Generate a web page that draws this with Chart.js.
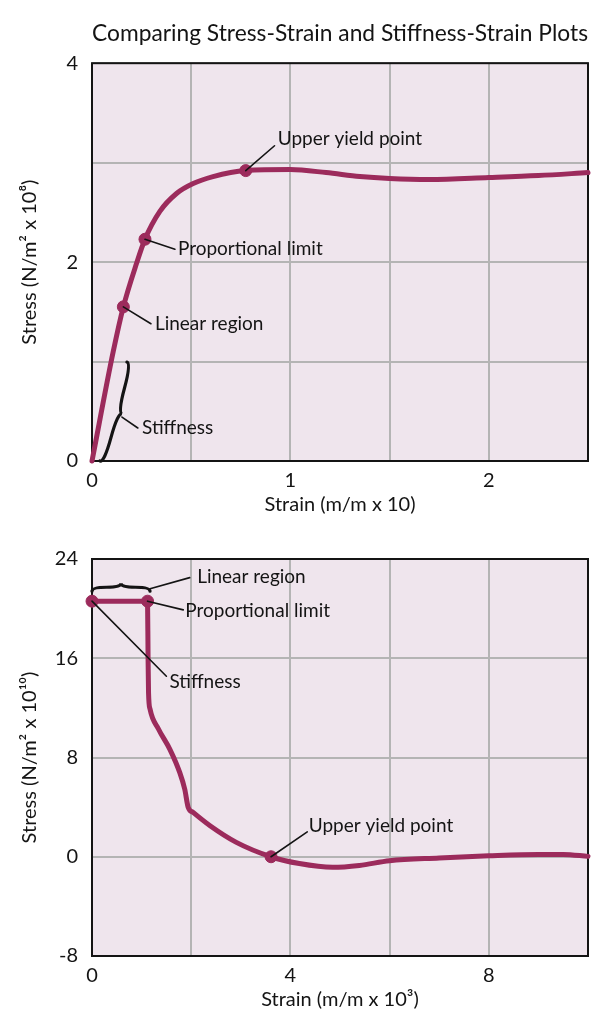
<!DOCTYPE html>
<html>
<head>
<meta charset="utf-8">
<title>Comparing Stress-Strain and Stiffness-Strain Plots</title>
<script src="https://cdn.jsdelivr.net/npm/chart.js@4.4.1/dist/chart.umd.min.js"></script>
<style>
    body { margin: 0; background: #fff; }
    #wrap { position: relative; width: 596px; height: 1026px; }
    canvas { position: absolute; left: 0; }
</style>
</head>
<body>
<div id="wrap">
    <canvas id="stressChart" width="596" height="520" style="top:0"></canvas>
    <canvas id="stiffChart" width="596" height="506" style="top:520px"></canvas>
</div>
<script>
// stress-strain curve (strain m/m x 10, stress N/m2 x 10^8)
var strainA = [0, 0.107, 0.158, 0.225, 0.267, 0.342, 0.426, 0.51, 0.61, 0.775, 1.0, 1.18, 1.35, 1.5, 1.7, 2.0, 2.25, 2.5];
var stressA = [0, 1.10, 1.55, 1.99, 2.23, 2.51, 2.69, 2.79, 2.86, 2.92, 2.93, 2.90, 2.86, 2.84, 2.83, 2.85, 2.87, 2.90];
var markStrainA = [0.158, 0.267, 0.775];
var markStressA = [1.55, 2.23, 2.92];
var xLabelsA = [0, 1, 2];
var yLabelsA = [0, 2, 4];

// stiffness-strain curve (strain m/m x 10^3, stress N/m2 x 10^10)
var strainB = [0, 1.12, 1.13, 1.14, 1.17, 1.34, 1.57, 1.77, 1.87, 1.94, 2.04, 2.38, 2.91, 3.61, 4.18, 4.85, 5.39, 6.0, 7.0, 8.0, 9.0, 9.5, 10];
var stressB = [20.6, 20.6, 16.2, 13.2, 11.9, 10.3, 8.66, 6.78, 5.44, 3.97, 3.57, 2.5, 1.16, 0, -0.55, -0.85, -0.7, -0.32, -0.1, 0.08, 0.19, 0.19, 0.03];
var markStrainB = [0, 1.12, 3.61];
var markStressB = [20.6, 20.6, 0];
var xLabelsB = [0, 4, 8];
var yLabelsB = [-8, 0, 8, 16, 24];

var FONT = 'Lato, "Open Sans", sans-serif';
var LINE = '#9c2b5c';
var PLOT_BG = '#efe5ed';
var GRID = '#b4b4b4';
var INK = '#141414';

function pairs(xs, ys) {
    return xs.map(function (x, i) { return { x: x, y: ys[i] }; });
}

// plot background, box, braces and callout labels
var decor = {
    id: 'decor',
    beforeDraw: function (chart) {
        var a = chart.chartArea, ctx = chart.ctx;
        ctx.save();
        ctx.fillStyle = PLOT_BG;
        ctx.fillRect(a.left, a.top, a.right - a.left, a.bottom - a.top);
        ctx.restore();
    },
    beforeDatasetsDraw: function (chart) {
        var a = chart.chartArea, ctx = chart.ctx;
        ctx.save();
        ctx.strokeStyle = INK;
        ctx.lineWidth = 2;
        ctx.strokeRect(a.left, a.top, a.right - a.left, a.bottom - a.top);
        ctx.restore();
    },
    afterDatasetsDraw: function (chart, args, opts) {
        var ctx = chart.ctx, sx = chart.scales.x, sy = chart.scales.y;
        function px(p) { return [sx.getPixelForValue(p[0]), sy.getPixelForValue(p[1])]; }
        ctx.save();
        ctx.strokeStyle = INK;
        ctx.fillStyle = INK;
        ctx.lineCap = 'round';
        (opts.braces || []).forEach(function (b) {
            var p1 = px(b.from), p2 = px(b.to);
            var dx = p2[0] - p1[0], dy = p2[1] - p1[1], len = Math.hypot(dx, dy);
            var ux = dx / len, uy = dy / len, nx = uy, ny = -ux, d = b.depth;
            function pt(t, k) { return [p1[0] + ux * len * t + nx * d * k, p1[1] + uy * len * t + ny * d * k]; }
            var c1 = pt(0, 0.5), m1 = pt(0.25, 0.5), c2 = pt(0.5, 0.5), tip = pt(0.5, 1), m2 = pt(0.75, 0.5), c3 = pt(1, 0.5);
            ctx.lineWidth = 3.2;
            ctx.beginPath();
            ctx.moveTo(p1[0], p1[1]);
            ctx.quadraticCurveTo(c1[0], c1[1], m1[0], m1[1]);
            ctx.quadraticCurveTo(c2[0], c2[1], tip[0], tip[1]);
            ctx.quadraticCurveTo(c2[0], c2[1], m2[0], m2[1]);
            ctx.quadraticCurveTo(c3[0], c3[1], p2[0], p2[1]);
            ctx.stroke();
        });
        ctx.font = '19px ' + FONT;
        ctx.textBaseline = 'middle';
        ctx.textAlign = 'left';
        (opts.notes || []).forEach(function (n) {
            var a = px(n.from), b = px(n.to), t = px(n.at);
            ctx.lineWidth = 1.6;
            ctx.beginPath();
            ctx.moveTo(a[0], a[1]);
            ctx.lineTo(b[0], b[1]);
            ctx.stroke();
            ctx.fillText(n.text, t[0], t[1]);
        });
        ctx.restore();
    }
};

function makeScales(o) {
    return {
        x: {
            type: 'linear', min: o.xMin, max: o.xMax,
            afterFit: function (s) { s.height = o.xHeight; },
            grid: { color: GRID, lineWidth: 2, drawTicks: false },
            border: { display: false },
            ticks: {
                stepSize: o.xStep, padding: 8, color: INK, autoSkip: false, maxRotation: 0,
                font: { family: FONT, size: 20 },
                callback: function (v) { return o.xLabels.indexOf(v) >= 0 ? String(v) : ''; }
            },
            title: { display: true, text: o.xTitle, color: INK, font: { family: FONT, size: 20 }, padding: { top: 0, bottom: o.xTitlePad } }
        },
        y: {
            type: 'linear', min: o.yMin, max: o.yMax,
            afterFit: function (s) { s.width = 92; },
            grid: { color: GRID, lineWidth: 2, drawTicks: false },
            border: { display: false },
            ticks: {
                stepSize: o.yStep, padding: 14, color: INK, autoSkip: false,
                font: { family: FONT, size: 20 },
                callback: function (v) { return o.yLabels.indexOf(v) >= 0 ? String(v) : ''; }
            },
            title: { display: true, text: o.yTitle, color: INK, font: { family: FONT, size: 20 }, padding: { top: 18, bottom: 0 } }
        }
    };
}

function curveSets(xs, ys, mx, my) {
    return [{
        label: 'Marked points',
        data: pairs(mx, my),
        backgroundColor: LINE,
        borderColor: LINE,
        pointRadius: 6,
        clip: false
    }, {
        label: 'Curve',
        data: pairs(xs, ys),
        showLine: true,
        borderColor: LINE,
        borderWidth: 5,
        pointRadius: 0,
        cubicInterpolationMode: 'monotone',
        borderCapStyle: 'round',
        borderJoinStyle: 'round',
        clip: false
    }];
}

var ctxA = document.getElementById('stressChart');
var stressChart = new Chart(ctxA, {
    type: 'scatter',
    data: { datasets: curveSets(strainA, stressA, markStrainA, markStressA) },
    options: {
        responsive: false,
        animation: false,
        layout: { padding: { top: 0, right: 7, bottom: 0, left: 0 } },
        scales: makeScales({
            xMin: 0, xMax: 2.5, xStep: 0.5, xLabels: xLabelsA, xHeight: 59, xTitlePad: 3,
            xTitle: 'Strain (m/m x 10)',
            yMin: 0, yMax: 4, yStep: 1, yLabels: yLabelsA,
            yTitle: 'Stress (N/m\u00b2 x 10\u2078)'
        }),
        plugins: {
            legend: { display: false },
            tooltip: { enabled: false },
            title: {
                display: true, fullSize: false,
                text: 'Comparing Stress-Strain and Stiffness-Strain Plots',
                color: INK, font: { family: FONT, size: 23, weight: 'normal' },
                padding: { top: 20, bottom: 15.6 }
            },
            decor: {
                braces: [{ from: [0.176, 0.995], to: [0.04, 0], depth: 9 }],
                notes: [
                    { text: 'Upper yield point', from: [0.775, 2.92], to: [0.92, 3.17], at: [0.936, 3.236] },
                    { text: 'Proportional limit', from: [0.267, 2.23], to: [0.418, 2.13], at: [0.433, 2.13] },
                    { text: 'Linear region', from: [0.158, 1.55], to: [0.297, 1.38], at: [0.317, 1.38] },
                    { text: 'Stiffness', from: [0.151, 0.442], to: [0.231, 0.332], at: [0.252, 0.332] }
                ]
            }
        }
    },
    plugins: [decor]
});

var ctxB = document.getElementById('stiffChart');
var stiffChart = new Chart(ctxB, {
    type: 'scatter',
    data: { datasets: curveSets(strainB, stressB, markStrainB, markStressB) },
    options: {
        responsive: false,
        animation: false,
        layout: { padding: { top: 39, right: 7, bottom: 0, left: 0 } },
        scales: makeScales({
            xMin: 0, xMax: 10, xStep: 2, xLabels: xLabelsB, xHeight: 70, xTitlePad: 14,
            xTitle: 'Strain (m/m x 10\u00b3)',
            yMin: -8, yMax: 24, yStep: 8, yLabels: yLabelsB,
            yTitle: 'Stress (N/m\u00b2 x 10\u00b9\u2070)'
        }),
        plugins: {
            legend: { display: false },
            tooltip: { enabled: false },
            decor: {
                braces: [{ from: [0, 21.4], to: [1.17, 21.4], depth: 8 }],
                notes: [
                    { text: 'Linear region', from: [1.17, 21.6], to: [1.97, 22.5], at: [2.12, 22.55] },
                    { text: 'Proportional limit', from: [1.12, 20.6], to: [1.84, 19.9], at: [1.88, 19.83] },
                    { text: 'Stiffness', from: [0, 20.6], to: [1.5, 14.55], at: [1.56, 14.07] },
                    { text: 'Upper yield point', from: [3.61, 0], to: [4.34, 2.0], at: [4.37, 2.5] }
                ]
            }
        }
    },
    plugins: [decor]
});
</script>
</body>
</html>
